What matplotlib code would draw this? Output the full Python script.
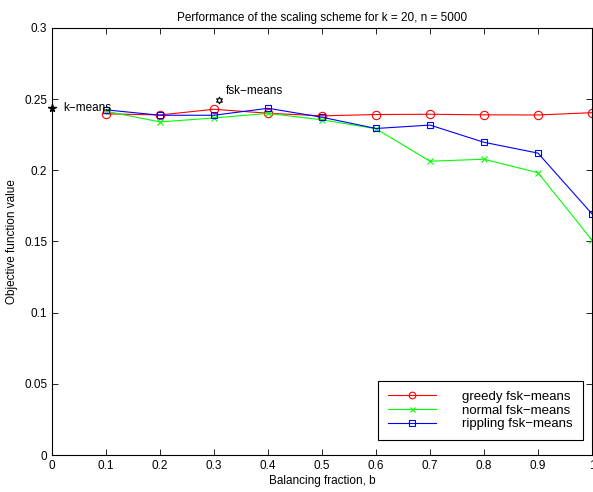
import matplotlib
matplotlib.use("Agg")
import matplotlib.pyplot as plt

plt.rcParams["font.family"] = ["Liberation Sans", "DejaVu Sans"]

b = [0.1, 0.2, 0.3, 0.4, 0.5, 0.6, 0.7, 0.8, 0.9, 1.0]
greedy = [0.2397, 0.2389, 0.2429, 0.2401, 0.2383, 0.2392, 0.2394, 0.2390, 0.2389, 0.2405]
normal = [0.2415, 0.2340, 0.2368, 0.2400, 0.2355, 0.2292, 0.2064, 0.2078, 0.1983, 0.1510]
rippling = [0.2425, 0.2387, 0.2387, 0.2436, 0.2373, 0.2294, 0.2318, 0.2197, 0.2121, 0.1694]

kmeans_pt = (0.0, 0.2435)
fsk_pt = (0.31, 0.2495)

x_ticks = [0, 0.1, 0.2, 0.3, 0.4, 0.5, 0.6, 0.7, 0.8, 0.9, 1]
x_labels = ["0", "0.1", "0.2", "0.3", "0.4", "0.5", "0.6", "0.7", "0.8", "0.9", "1"]
y_ticks = [0, 0.05, 0.1, 0.15, 0.2, 0.25, 0.3]
y_labels = ["0", "0.05", "0.1", "0.15", "0.2", "0.25", "0.3"]


def main():
    fig = plt.figure(figsize=(5.93, 4.92), dpi=100)
    ax = fig.add_axes([52 / 593, 1 - 455 / 492, 540 / 593, 427 / 492])

    ax.plot(b, greedy, color="#ff0000", lw=0.8, marker="o", ms=6, mfc="none",
            mew=0.8, label="greedy fsk\u2212means", clip_on=False)
    ax.plot(b, normal, color="#00ff00", lw=0.8, marker="x", ms=4.5,
            mew=0.8, label="normal fsk\u2212means", clip_on=False)
    ax.plot(b, rippling, color="#0000ff", lw=0.8, marker="s", ms=5, mfc="none",
            mew=0.8, label="rippling fsk\u2212means", clip_on=False)

    ax.plot(*kmeans_pt, marker="*", color="black", ms=5.5, clip_on=False)
    ax.text(0.02, kmeans_pt[1], "k\u2212means", fontsize=8.5, va="center", ha="left")
    ax.plot(*fsk_pt, marker=(6, 1, 0), color="black", ms=5, mfc="none", mew=0.8)
    ax.text(0.322, 0.2515, "fsk\u2212means", fontsize=8.5, va="bottom", ha="left")

    ax.set_xlim(0, 1)
    ax.set_ylim(0, 0.3)
    ax.set_xticks(x_ticks, x_labels)
    ax.set_yticks(y_ticks, y_labels)
    ax.tick_params(direction="in", length=4, width=0.6, labelsize=8.5,
                   top=True, right=True)
    for s in ax.spines.values():
        s.set_linewidth(0.8)

    ax.set_xlabel("Balancing fraction, b", fontsize=8.5, labelpad=2)
    ax.set_ylabel("Objective function value", fontsize=8.5, labelpad=4)
    ax.set_title("Performance of the scaling scheme for k = 20, n = 5000",
                 fontsize=8.5, pad=5)

    leg = ax.legend(loc="lower right", bbox_to_anchor=(0.99, 0.025), fontsize=9.5,
                    fancybox=False, edgecolor="black", framealpha=1,
                    handlelength=3.6, handletextpad=2.0, borderpad=0.75,
                    labelspacing=0.12, borderaxespad=0.3, markerscale=0.8)
    leg.get_frame().set_linewidth(0.8)

    fig.savefig("out.png", dpi=100)


if __name__ == "__main__":
    main()
